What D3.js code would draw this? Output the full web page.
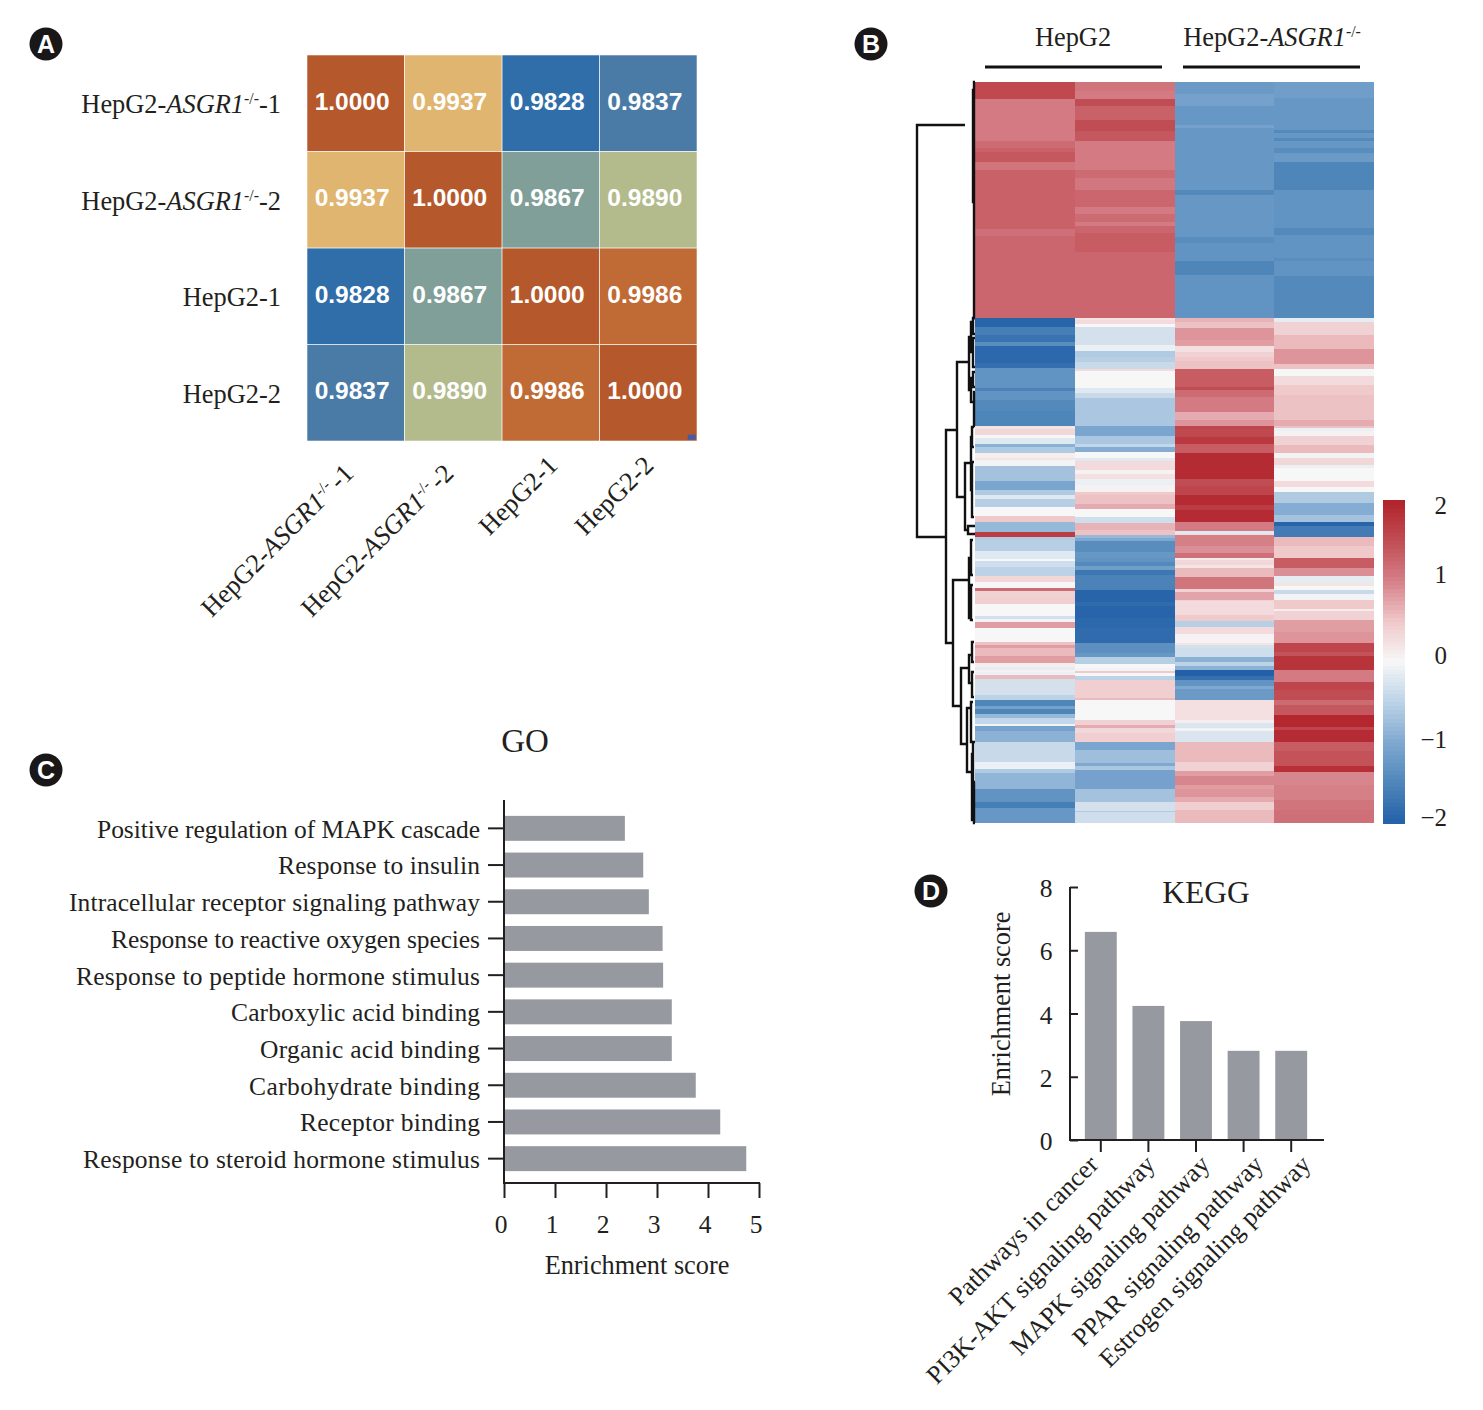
<!DOCTYPE html>
<html>
<head>
<meta charset="utf-8">
<script src="https://cdn.jsdelivr.net/npm/d3@7"></script>
<style>
  html, body { margin: 0; padding: 0; background: #fff; }
  svg { display: block; }
  text { font-family: "Liberation Serif", serif; fill: #231f20; }
  .num { font-family: "Liberation Sans", sans-serif; font-weight: bold; fill: #fff; }
</style>
</head>
<body>
<svg id="fig" width="1483" height="1410"></svg>
<script>
// panel A: correlation matrix
const sampleNames = ['HepG2-ASGR1-/--1', 'HepG2-ASGR1-/--2', 'HepG2-1', 'HepG2-2'];
const corrRows = [
  [1.0000, 0.9937, 0.9828, 0.9837],
  [0.9937, 1.0000, 0.9867, 0.9890],
  [0.9828, 0.9867, 1.0000, 0.9986],
  [0.9837, 0.9890, 0.9986, 1.0000]
];
const corrStops = [0.9828, 0.9837, 0.9867, 0.9890, 0.9937, 0.9986, 1.0000];
const corrColors = ['#2f6ea8', '#4a7ba6', '#7f9f98', '#b3bb8d', '#e0b56f', '#c06b35', '#b5582b'];

// panel B: expression heatmap, each column is a list of [last row of the band, z-score]
const heatRowCount = 741;
const heatHepG2A = [[17,1.55],[59,1.05],[66,1.2],[70,1.3],[80,1.4],[88,1.1],[147,1.3],[154,1.15],[236,1.25],
  [245,-1.95],[253,-1.6],[260,-1.75],[264,-1.4],[281,-1.9],[286,-1.8],[306,-1.3],[309,-1.55],[318,-1.3],[329,-1.45],[344,-1.5],
  [347,.2],[353,.35],[356,0],[362,-.2],[365,-.9],[371,-.6],[376,.1],[378,.2],[384,-.05],[399,-.7],[408,-1.05],[413,-.6],[417,-.2],[425,-.55],[434,0],[440,.5],[450,-.8],[455,1.7],
  [458,-.6],[469,-.55],[477,-.2],[479,0],[485,-.35],[494,-.5],[500,.35],[506,0],[509,1.2],[515,.4],[522,.45],[534,0],[537,-.3],[540,.05],[546,.8],[560,0],[563,.55],
  [566,.8],[574,.6],[581,.8],[585,.1],[588,-.15],[590,.05],[593,-.1],[597,.6],[613,-.3],[618,-.5],[624,-1.5],[627,-1.1],[632,-1.5],[636,-.8],[642,-.45],[644,-.05],[649,-1.1],[660,-.9],
  [668,-.4],[680,-.4],[687,-.1],[691,-.6],[707,-.85],[720,-1.3],[726,-1.6],[741,-1.25]];
const heatHepG2B = [[9,1.1],[17,1.05],[24,1.5],[38,1.3],[49,1.5],[59,1.4],[88,1.05],[96,1.2],[108,1.08],[125,1.25],[132,1.05],[140,1.2],[144,1.05],[151,1.25],[170,1.35],[236,1.25],
  [238,.2],[242,.3],[245,0],[263,-.3],[269,-.1],[275,-.6],[280,-.55],[287,-.4],[289,.3],[306,0],[311,-.2],[316,-.4],[344,-.65],
  [354,-1.05],[362,-.65],[365,-.45],[370,-.95],[376,0],[379,-.2],[388,.3],[392,.05],[397,.25],[403,-.1],[410,.05],[413,.5],[422,.55],[427,.7],[435,0],[441,-.35],[448,.65],[453,.55],
  [456,-.8],[459,-1.0],[470,-1.4],[476,-1.25],[480,-1.3],[484,-1.45],[488,-1.15],[493,-1.7],[508,-1.55],[520,-1.95],[524,-1.85],[536,-1.95],[546,-1.9],[561,-1.85],
  [571,-1.35],[575,-1.25],[582,-.55],[586,0],[589,-.05],[591,.5],[594,0],[598,-.5],[616,.45],[618,.6],[638,0],[643,.4],[646,.7],[651,.35],[660,.45],
  [668,-1.05],[681,-.75],[684,-1],[688,-.65],[707,-1.1],[720,-.7],[729,-.3],[730,-.6],[741,-.35]];
const heatKoA = [[12,-1.2],[24,-1.1],[43,-1.25],[46,-1.1],[108,-1.25],[113,-1.45],[155,-1.25],[161,-1.4],[179,-1.3],[193,-1.5],[236,-1.3],
  [240,.65],[246,.55],[258,.85],[264,.8],[270,.25],[275,.4],[279,.5],[287,.55],[305,1.35],[308,1.5],[315,1.2],[330,1.05],[338,.7],[344,.85],
  [347,1.6],[355,1.55],[362,1.75],[371,1.35],[397,1.9],[404,1.5],[413,1.6],[423,1.9],[428,1.7],[440,1.9],[449,1.05],[452,-.2],[453,.3],
  [464,1.0],[471,.9],[476,1.15],[478,.15],[483,.35],[486,.2],[495,.6],[507,1.1],[510,.4],[518,.75],[519,.4],[533,.3],[539,.5],[545,-.55],[552,.3],[561,.05],
  [563,.2],[566,-.3],[575,-.35],[580,-.9],[584,-.5],[588,-.9],[594,-2],[598,-1.8],[604,-1.3],[607,-1],[618,-1.2],[638,.25],[641,.1],[646,-.25],[649,-.05],[660,-.25],
  [680,.6],[689,.4],[694,.8],[703,.95],[707,.8],[715,.85],[720,.7],[728,.45],[741,.6]];
const heatKoB = [[16,-1.15],[48,-1.25],[51,-1.45],[56,-1.25],[59,-1.45],[66,-1.25],[71,-1.4],[80,-1.2],[108,-1.5],[146,-1.3],[153,-1.45],[176,-1.3],[179,-1.4],[194,-1.3],[236,-1.45],
  [240,-.15],[253,.4],[267,.6],[282,.85],[287,.55],[294,-.02],[303,.3],[313,.5],[338,.55],[344,.7],
  [346,.55],[349,-.1],[354,.05],[363,.4],[371,.6],[376,-.05],[383,.35],[386,-.1],[399,0],[405,.3],[410,0],[421,-.6],[433,-.95],[440,-.7],[444,-1.95],[455,-1.65],
  [464,.6],[476,.5],[486,1.35],[494,.9],[501,-.15],[504,.2],[508,0],[512,-.4],[518,-.05],[527,.5],[529,.1],[538,.4],[550,.8],[561,.85],
  [570,1.6],[574,1.45],[588,1.8],[600,1.05],[608,1.6],[618,1.5],[623,1.2],[633,1.4],[645,1.95],[648,1.6],[660,1.9],
  [669,1.35],[684,1.45],[690,1.85],[703,.95],[718,1.0],[728,1.1],[741,1.15]];
const heatColumns = [heatHepG2A, heatHepG2B, heatKoA, heatKoB];
const zStops = [-2, -1.5, -1, -0.5, 0, 0.5, 1, 1.5, 2];
const zColors = ['#2360a8', '#4f86ba', '#7fa8d0', '#bcd3e7', '#f7f7f7', '#f0c9cb', '#d57f87', '#c14d54', '#b2232b'];
const zTicks = [2, 1, 0, -1, -2];

// dendrogram merges: [height, top row, bottom row, top child height, bottom child height]
const dendroMerges = [
  [58, 43, 455, 10, 29],
  [29, 348, 561, 18, 22],
  [18, 280, 415, 7, 10],
  [22, 498, 624, 6, 14],
  [14, 586, 662, 7, 8],
  [10, 381, 448, 4, 7],
  [6, 255, 308, 4, 4],
  [4, 240, 270, 2, 2],
  [4, 296, 320, 2, 1],
  [2, 236, 252, 0, 0],
  [2, 256, 285, 0, 0],
  [2, 290, 305, 0, 0],
  [1, 310, 344, 0, 0],
  [4, 355, 408, 3, 3],
  [3, 345, 365, 1, 1],
  [3, 380, 435, 1, 1],
  [7, 444, 452, 0, 0],
  [6, 476, 536, 4, 4],
  [4, 458, 493, 2, 2],
  [4, 503, 538, 2, 2],
  [6, 573, 601, 3, 3],
  [3, 560, 580, 1, 1],
  [3, 590, 615, 1, 1],
  [8, 626, 690, 4, 3],
  [4, 620, 660, 2, 2],
  [3, 672, 738, 2, 1],
  [2, 660, 725, 0, 0],
  [1, 700, 741, 0, 0],
  [2, 8, 120, 0, 0],
  [1, 0, 236, 0, 0]
];

// panel C: GO enrichment
const goTerms = ['Positive regulation of MAPK cascade', 'Response to insulin', 'Intracellular receptor signaling pathway',
  'Response to reactive oxygen species', 'Response to peptide hormone stimulus', 'Carboxylic acid binding', 'Organic acid binding',
  'Carbohydrate binding', 'Receptor binding', 'Response to steroid hormone stimulus'];
const goScores = [2.37, 2.73, 2.84, 3.11, 3.12, 3.29, 3.29, 3.76, 4.24, 4.75];
// the original face sets tighter than ours, so the label lengths are held to what it shows
const goLabelLengths = [383, 202, 411, 369, 404, 249, 220, 231, 180, 397];

// panel D: KEGG enrichment
const keggTerms = ['Pathways in cancer', 'PI3K-AKT signaling pathway', 'MAPK signaling pathway', 'PPAR signaling pathway', 'Estrogen signaling pathway'];
const keggScores = [6.58, 4.24, 3.76, 2.82, 2.82];

const badges = [['A', 46, 44], ['B', 871, 44], ['C', 46, 770], ['D', 931, 891]];
const barColor = '#96999f';

const svg = d3.select('#fig');

// writes "HepG2-ASGR1-/--1" with the gene in italics and the -/- raised
function sampleLabel(sel, name, extraGap) {
  const m = name.match(/^(HepG2-)(ASGR1)(-\/-)(-\d)?$/);
  if (!m) {
    sel.text(name);
    return;
  }
  sel.append('tspan').text(m[1]);
  sel.append('tspan').attr('font-style', 'italic').text(m[2]);
  sel.append('tspan').attr('font-size', '0.6em').attr('dy', '-0.55em').text(m[3]);
  if (m[4]) {
    sel.append('tspan').attr('dy', '0.33em').attr('dx', extraGap || 0).text(m[4]);
  }
}

for (const b of badges) {
  svg.append('circle').attr('cx', b[1]).attr('cy', b[2]).attr('r', 16.5).attr('fill', '#1a1718');
  svg.append('text').attr('class', 'num').attr('x', b[1]).attr('y', b[2] + 9)
      .attr('text-anchor', 'middle').attr('font-size', 25).text(b[0]);
}

// ---- panel A
const corrX = d3.scaleBand().domain(d3.range(4)).range([306.5, 697.5]).padding(0.008);
const corrY = d3.scaleBand().domain(d3.range(4)).range([54.5, 441.5]).padding(0.008);
const corrColor = d3.scaleLinear().domain(corrStops).range(corrColors);
const corrG = svg.append('g');

corrRows.forEach(function(row, r) {
  row.forEach(function(v, c) {
    corrG.append('rect')
        .attr('x', corrX(c)).attr('y', corrY(r))
        .attr('width', corrX.bandwidth()).attr('height', corrY.bandwidth())
        .attr('fill', corrColor(v));
    corrG.append('text').attr('class', 'num')
        .attr('x', corrX(c) + corrX.bandwidth() / 2 - 3.5)
        .attr('y', corrY(r) + corrY.bandwidth() / 2 + 6.5)
        .attr('text-anchor', 'middle').attr('font-size', 24.5)
        .text(v.toFixed(4));
  });
  const left = svg.append('text').attr('x', 281)
      .attr('y', corrY(r) + corrY.bandwidth() / 2 + 10)
      .attr('text-anchor', 'end').attr('font-size', 26.4);
  sampleLabel(left, sampleNames[r]);
});
// little blue mark left in the last cell of the original
corrG.append('rect').attr('x', corrX(3) + corrX.bandwidth() - 9).attr('y', corrY(3) + corrY.bandwidth() - 6)
    .attr('width', 8).attr('height', 5).attr('fill', '#3f5da8');

const rotatedEnds = [[355, 475], [455, 475], [559, 467], [655, 467]];
sampleNames.forEach(function(name, i) {
  const t = svg.append('text')
      .attr('transform', 'translate(' + rotatedEnds[i][0] + ',' + rotatedEnds[i][1] + ') rotate(-45)')
      .attr('text-anchor', 'end').attr('font-size', 26.4);
  sampleLabel(t, name, 3);
});

// ---- panel B
const heatX = d3.scaleBand().domain(d3.range(4)).range([975, 1374]);
const heatY = d3.scaleLinear().domain([0, heatRowCount]).range([82, 823]);
const zColor = d3.scaleLinear().domain(zStops).range(zColors);
const heatG = svg.append('g').attr('shape-rendering', 'crispEdges');

heatColumns.forEach(function(bands, c) {
  let start = 0;
  for (const band of bands) {
    heatG.append('rect')
        .attr('x', heatX(c)).attr('width', heatX.bandwidth())
        .attr('y', heatY(start)).attr('height', heatY(band[0]) - heatY(start))
        .attr('fill', zColor(band[1]));
    start = band[0];
  }
});

const dendroX = d3.scaleLinear().domain([0, 58]).range([975, 917]);
const dendroG = svg.append('g').attr('fill', 'none').attr('stroke', '#111').attr('stroke-width', 2.4);
for (const m of dendroMerges) {
  dendroG.append('path').attr('d', d3.line()([
    [dendroX(m[3]), heatY(m[1])],
    [dendroX(m[0]), heatY(m[1])],
    [dendroX(m[0]), heatY(m[2])],
    [dendroX(m[4]), heatY(m[2])]
  ]));
}

const groupHeads = [['HepG2', 1073, 985, 1162], ['HepG2-ASGR1-/-', 1272, 1183, 1360]];
for (const g of groupHeads) {
  const t = svg.append('text').attr('x', g[1]).attr('y', 46).attr('text-anchor', 'middle').attr('font-size', 26.4);
  sampleLabel(t, g[0]);
  svg.append('line').attr('x1', g[2]).attr('x2', g[3]).attr('y1', 67).attr('y2', 67)
      .attr('stroke', '#111').attr('stroke-width', 3);
}

// colour key
const keyY = d3.scaleLinear().domain([-2, 2]).range([823, 500]);
const keyStep = 0.05;
const keyG = svg.append('g').attr('shape-rendering', 'crispEdges');
d3.range(-2, 2, keyStep).forEach(function(z) {
  keyG.append('rect').attr('x', 1383).attr('width', 22)
      .attr('y', keyY(z + keyStep)).attr('height', keyY(z) - keyY(z + keyStep) + 0.5)
      .attr('fill', zColor(z + keyStep / 2));
});
const keyLabelY = d3.scaleLinear().domain([-2, -1, 0, 1, 2]).range([826, 748, 664, 583, 514]);
for (const z of zTicks) {
  svg.append('text').attr('x', 1447).attr('y', keyLabelY(z)).attr('text-anchor', 'end').attr('font-size', 25)
      .text(String(z).replace('-', '\u2212'));
}

// ---- panel C
const goX = d3.scaleLinear().domain([0, 5]).range([504, 759]);
const goY = d3.scaleBand().domain(goTerms).range([810, 1177]).paddingInner(0.32).paddingOuter(0.16);
const goG = svg.append('g');

goG.selectAll('rect').data(goScores).enter().append('rect')
    .attr('x', goX(0))
    .attr('y', function(d, i) { return goY(goTerms[i]); })
    .attr('width', function(d) { return goX(d) - goX(0); })
    .attr('height', goY.bandwidth())
    .attr('fill', barColor);

const goAxisY = d3.axisLeft(goY).tickSize(16).tickPadding(8);
const goYg = svg.append('g').attr('transform', 'translate(' + goX(0) + ',0)').call(goAxisY);
goYg.select('.domain').remove();
goYg.append('line').attr('y1', 800).attr('y2', 1184).attr('stroke', '#231f20').attr('stroke-width', 2);
goYg.selectAll('.tick line').attr('stroke', '#231f20').attr('stroke-width', 2);
goYg.selectAll('.tick text').attr('font-size', 25.5).attr('fill', '#231f20')
    .attr('font-family', '"Liberation Serif", serif').attr('dy', '0.37em')
    .attr('textLength', function(d, i) { return goLabelLengths[i]; })
    .attr('lengthAdjust', 'spacing');

const goAxisX = d3.axisBottom(goX).ticks(5).tickSize(15).tickPadding(0);
const goXg = svg.append('g').attr('transform', 'translate(0,1183)').call(goAxisX);
goXg.select('.domain').remove();
goXg.append('line').attr('x1', goX(0)).attr('x2', 760).attr('stroke', '#231f20').attr('stroke-width', 2);
goXg.selectAll('.tick line').attr('stroke', '#231f20').attr('stroke-width', 2);
goXg.selectAll('.tick text').attr('font-size', 25.5).attr('fill', '#231f20')
    .attr('font-family', '"Liberation Serif", serif').attr('dy', 0).attr('y', 50).attr('dx', -3.5);

svg.append('text').attr('x', 637).attr('y', 1274).attr('text-anchor', 'middle').attr('font-size', 26.3).text('Enrichment score');
svg.append('text').attr('x', 525).attr('y', 752).attr('text-anchor', 'middle').attr('font-size', 33).text('GO');

// ---- panel D
const keggX = d3.scaleBand().domain(keggTerms).range([1077, 1315]).paddingInner(0.33).paddingOuter(0.165);
const keggY = d3.scaleLinear().domain([0, 8]).range([1140, 887]);
const keggG = svg.append('g');

keggG.selectAll('rect').data(keggScores).enter().append('rect')
    .attr('x', function(d, i) { return keggX(keggTerms[i]); })
    .attr('y', function(d) { return keggY(d); })
    .attr('width', keggX.bandwidth())
    .attr('height', function(d) { return keggY(0) - keggY(d); })
    .attr('fill', barColor);

const keggAxisY = d3.axisRight(keggY).ticks(4).tickSize(8).tickFormat('');
const keggYg = svg.append('g').attr('transform', 'translate(1070,0)').call(keggAxisY);
keggYg.select('.domain').attr('stroke', '#231f20').attr('stroke-width', 2).attr('d', 'M0,887V1141');
keggYg.selectAll('.tick line').attr('stroke', '#231f20').attr('stroke-width', 2);
keggY.ticks(4).forEach(function(v) {
  svg.append('text').attr('x', 1046).attr('y', keggY(v) + 10).attr('text-anchor', 'middle').attr('font-size', 25.5).text(v);
});

const keggAxisX = d3.axisBottom(keggX).tickSize(12).tickFormat('');
const keggXg = svg.append('g').attr('transform', 'translate(0,1140)').call(keggAxisX);
keggXg.select('.domain').remove();
keggXg.append('line').attr('x1', 1069).attr('x2', 1324).attr('stroke', '#231f20').attr('stroke-width', 2);
keggXg.selectAll('.tick line').attr('stroke', '#231f20').attr('stroke-width', 2);

const keggLabelGap = [-1, 8, 15, 21, 21];
keggTerms.forEach(function(term, i) {
  const cx = keggX(term) + keggX.bandwidth() / 2;
  svg.append('text')
      .attr('transform', 'translate(' + (cx + keggLabelGap[i]) + ',1166) rotate(-45)')
      .attr('text-anchor', 'end').attr('font-size', 25.8).text(term);
});

svg.append('text').attr('transform', 'translate(1010,1004) rotate(-90)')
    .attr('text-anchor', 'middle').attr('font-size', 26.3).text('Enrichment score');
svg.append('text').attr('x', 1206).attr('y', 903).attr('text-anchor', 'middle').attr('font-size', 31.5).text('KEGG');
</script>
</body>
</html>
